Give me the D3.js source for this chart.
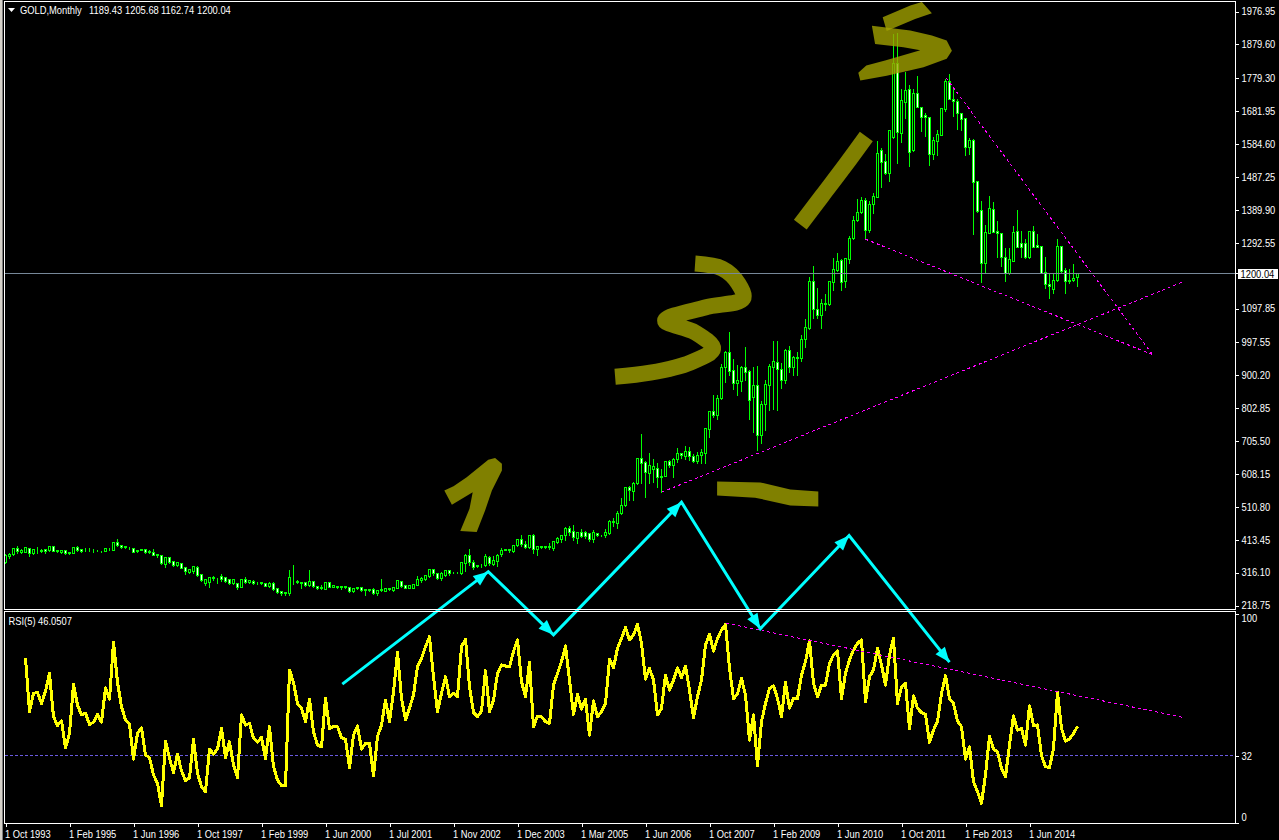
<!DOCTYPE html>
<html>
<head>
<meta charset="utf-8">
<script src="https://cdn.jsdelivr.net/npm/d3@7/dist/d3.min.js"></script>
<style>
html,body{margin:0;padding:0;background:#000;overflow:hidden}
svg{display:block}
text{font-family:"Liberation Sans",sans-serif;font-size:10.5px;fill:#fff}
</style>
</head>
<body>
<svg id="c" width="1279" height="840"></svg>
<script>
const symbolTitle = "GOLD,Monthly";
const rsiTitle = "RSI(5) 46.0507";

const opens = [
347,364,369,387,376,376,386,373,381,380,
384,381,393,381,377,381,372,374,391,384,
382,381,381,382,381,380,382,383,406,396,
390,391,386,378,384,384,378,376,370,367,
340,361,349,336,342,332,317,320,332,310,
283,286,298,298,304,303,296,283,283,273,
295,287,290,286,284,285,275,285,268,260,
256,253,296,291,286,286,278,290,276,270,
266,288,273,276,274,271,271,259,268,271,
264,265,265,253,263,261,265,263,269,289,
278,269,270,279,293,296,306,324,314,298,
308,322,316,316,312,344,367,347,335,336,
337,362,340,350,370,383,383,379,395,413,
398,389,425,385,389,390,389,386,406,415,
426,448,438,418,435,435,433,413,433,425,
426,433,466,462,490,514,567,557,579,653,
641,610,622,623,597,602,644,634,650,668,
660,675,660,646,662,670,740,792,780,830,
922,969,913,875,883,922,910,833,869,723,
815,869,924,937,916,886,975,922,949,949,
1005,1039,1177,1094,1078,1109,1109,1174,1210,1240,
1179,1244,1304,1358,1383,1417,1328,1405,1427,1565,
1532,1496,1603,1822,1617,1708,1745,1565,1733,1692,
1668,1662,1555,1593,1611,1688,1770,1716,1712,1676,
1659,1575,1595,1473,1387,1230,1321,1390,1325,1319,
1248,1200,1238,1327,1289,1289,1248,1325,1283,1282,
1205,1169,1155,1180,1281,1210,1182,1180,1189.43];

const highs = [
374,377,388,395,387,392,389,386,393,386,
386,394,394,383,384,383,378,393,396,388,
391,391,386,384,383,387,391,406,416,399,
396,394,388,385,385,386,384,386,374,368,
362,364,350,347,343,334,327,336,338,312,
296,305,308,303,312,305,298,296,288,298,
304,294,295,290,291,286,290,290,270,261,
260,324,340,297,288,288,324,293,277,281,
289,290,278,277,277,275,272,270,275,272,
268,266,273,265,298,271,273,275,295,293,
279,281,283,308,304,309,329,327,317,320,
324,324,318,318,347,372,386,354,340,342,
372,367,367,374,391,386,387,399,416,429,
411,427,433,395,396,396,406,411,423,429,
452,456,458,436,446,441,436,443,435,428,
448,472,478,500,537,569,574,587,655,727,
648,673,653,643,623,646,650,656,685,673,
692,689,668,675,682,745,793,843,843,934,
973,1029,949,931,929,985,916,926,929,827,
887,934,1003,1003,939,980,988,959,971,1021,
1068,1192,1225,1161,1126,1141,1181,1248,1264,1245,
1248,1314,1373,1422,1429,1427,1417,1442,1595,1575,
1556,1629,1911,1916,1748,1800,1761,1748,1787,1694,
1679,1664,1607,1627,1692,1780,1792,1751,1718,1679,
1662,1605,1600,1477,1419,1346,1431,1414,1358,1324,
1279,1279,1344,1390,1328,1304,1328,1343,1321,1284,
1251,1203,1205,1304,1284,1220,1215,1230,1205.68];

const lows = [
342,357,367,372,372,375,365,369,374,376,
374,380,378,376,374,369,371,373,379,377,
378,378,377,378,377,379,381,382,393,387,
386,384,376,376,381,374,374,366,362,340,
332,342,334,335,328,310,314,312,304,290,
278,273,293,283,291,288,280,282,267,272,
285,285,282,281,280,275,273,263,253,249,
249,249,281,283,269,276,276,271,267,265,
265,272,272,268,265,268,258,258,265,261,
249,261,251,249,260,259,263,260,268,273,
268,268,268,277,288,293,302,307,295,293,
304,309,314,313,310,320,337,324,330,330,
334,337,337,334,364,381,376,376,393,393,
386,386,373,368,388,388,384,381,403,406,
411,426,411,403,419,416,409,406,423,424,
421,429,452,448,488,512,529,529,577,579,
539,579,584,569,554,600,626,598,643,653,
650,648,643,638,638,638,717,776,769,828,
879,899,859,840,853,885,768,732,677,697,
736,796,798,796,862,877,909,901,899,942,
983,1036,1069,1069,1040,1092,1106,1151,1208,1151,
1161,1232,1301,1356,1378,1303,1322,1378,1425,1457,
1494,1474,1600,1528,1590,1659,1519,1563,1692,1623,
1607,1521,1538,1551,1609,1681,1715,1666,1629,1625,
1551,1555,1317,1382,1175,1202,1319,1322,1248,1223,
1178,1198,1236,1277,1249,1245,1245,1277,1277,1200,
1158,1128,1141,1178,1205,1141,1171,1178,1162.74];

const closes = [
367,371,387,378,381,391,372,385,382,383,
379,393,379,378,381,372,377,391,381,379,
381,382,382,381,382,386,383,405,396,391,
393,389,377,383,382,377,377,368,366,342,
361,347,336,346,329,319,326,334,308,293,
295,302,301,299,295,290,283,295,271,297,
287,293,284,287,287,276,285,266,258,253,
255,301,297,287,285,278,290,275,269,273,
288,273,277,272,271,274,259,269,271,263,
266,263,255,263,265,270,270,272,293,276,
269,278,280,295,300,308,324,312,300,312,
322,312,315,315,346,367,347,332,337,338,
364,342,352,367,383,384,384,395,414,399,
389,425,385,393,393,392,393,408,416,425,
448,436,419,435,424,424,413,435,425,427,
435,466,464,490,514,567,558,579,653,640,
611,632,631,597,602,644,634,650,668,662,
675,660,646,662,671,742,792,780,830,922,
969,912,875,884,922,909,827,869,721,815,
872,926,940,916,886,973,922,952,952,1005,
1042,1177,1094,1078,1114,1114,1178,1212,1238,1176,
1246,1304,1358,1383,1417,1328,1407,1429,1558,1531,
1496,1625,1822,1620,1713,1743,1560,1733,1694,1664,
1662,1555,1595,1613,1689,1770,1717,1712,1674,1658,
1575,1595,1472,1384,1230,1323,1393,1324,1319,1248,
1200,1242,1323,1279,1279,1248,1325,1279,1279,1202,
1170,1164,1180,1281,1208,1178,1178,1188,1200.04];

const rsiFirstBar = 5;
const rsiValues = [
78.6,53.1,61.8,62.3,57.0,62.9,71.4,50.7,46.4,48.8,35.8,42.7,66.1,56.3,51.5,
52.3,47.0,48.0,51.8,48.0,64.5,59.0,86.2,67.1,55.5,49.1,47.0,30.3,42.7,45.4,
32.3,31.1,22.8,18.8,8.1,39.0,30.7,24.0,32.6,24.8,20.0,21.5,39.8,23.6,17.2,
14.8,35.2,32.8,35.2,45.1,31.2,38.7,27.5,21.5,51.5,46.7,47.5,40.3,38.4,40.8,
30.7,45.9,26.8,20.4,17.7,17.7,73.0,67.1,57.0,54.7,48.3,59.1,43.5,37.1,36.3,
59.4,45.1,45.9,45.9,40.6,39.8,26.3,41.9,46.2,35.2,37.9,37.9,22.3,41.1,46.7,
58.6,48.3,62.6,81.5,59.4,49.1,54.7,61.0,74.6,78.6,84.2,89.0,69.8,53.1,61.8,
69.8,60.2,61.8,60.2,84.2,87.8,65.0,52.7,50.7,53.4,72.7,53.1,58.6,71.4,75.4,
74.9,74.6,81.8,87.4,67.4,60.2,76.7,45.9,51.0,50.7,48.3,47.5,65.8,71.4,77.0,
84.5,68.2,51.8,61.4,54.3,59.1,41.9,58.2,50.7,53.1,57.0,78.1,74.1,83.4,88.2,
93.3,87.4,89.7,94.8,85.8,68.7,73.8,68.2,51.5,54.7,70.6,63.4,68.2,74.1,69.3,
74.9,63.4,50.2,60.2,68.2,85.0,90.1,82.1,88.2,92.1,94.8,73.8,59.4,61.4,69.0,
61.0,39.5,51.5,27.2,48.3,57.0,64.2,65.5,59.4,50.7,67.1,54.7,59.4,59.4,70.6,
77.0,86.9,66.6,60.2,65.8,65.8,76.2,80.2,82.1,59.4,71.4,77.8,82.6,85.8,87.4,
57.8,69.8,73.0,83.4,75.4,65.8,80.2,88.2,57.0,65.0,66.6,44.8,60.7,54.7,52.7,
51.8,38.4,44.3,48.3,61.8,70.3,59.4,57.0,48.6,45.9,30.4,36.3,19.6,14.8,9.2,
22.8,41.4,35.2,33.9,25.9,22.0,37.1,51.0,44.3,45.1,37.1,55.9,46.4,46.7,32.0,
26.8,26.3,35.5,62.3,45.1,39.0,40.0,42.7,46.05];

const xTickBars = [0,16,32,48,64,80,96,112,128,144,160,176,192,208,224,240,256];
const xTickLabels = ["1 Oct 1993","1 Feb 1995","1 Jun 1996","1 Oct 1997","1 Feb 1999","1 Jun 2000","1 Jul 2001","1 Nov 2002","1 Dec 2003","1 Mar 2005","1 Jun 2006","1 Oct 2007","1 Feb 2009","1 Jun 2010","1 Oct 2011","1 Feb 2013","1 Jun 2014"];
const priceTicks = [1976.95,1879.60,1779.30,1681.95,1584.60,1487.25,1389.90,1292.55,1097.85,997.55,900.20,802.85,705.50,608.15,510.80,413.45,316.10,218.75];
const rsiTicks = [100,32,0];

/* annotations, in [bar, price] */
const trendLines = [
  [[164,554],[294.9,1179]],
  [[215,1303],[286.8,961]],
  [[235.1,1781],[286.8,961]]
];
const rsiTrendLine = [[180.2,95.4],[294.7,50.2]];
const cyanPath = [[84.2,-14],[120.7,319],[137,132],[169,524.5],[188.7,150],[210.9,426],[236,51]];
const inkAreas = [
  [[109.7,559],[112,572],[115.3,598],[120.7,650],[122.4,655],[124.1,638],[124.1,618],[121.6,559],[119.9,500],[117.8,436],[113.7,439],[116,505],[116.8,554],[111.6,517]],
  [[177.9,586],[188.7,583],[196.2,562],[203.2,556],[203.2,512],[196.2,515],[187.4,538],[177.9,544]],
  [[219.3,1960],[226.2,1995],[229.1,2005],[231.6,1972],[227.4,1955],[220.3,1919]],
  [[216.6,1935],[226.2,1921],[231.6,1906],[235.3,1891],[236.6,1861],[235.3,1837],[229.5,1812],[220.3,1787],[213.7,1773],[213.2,1796],[215.2,1817],[219.9,1832],[228.7,1862],[224.5,1871],[217.4,1881]]
];
const inkStrokes = [
  [[172.4,1231],[179.2,1216],[183.2,1172],[184.4,1127],[174.9,1101],[164.9,1062],[172.4,1027],[176.9,979],[171.2,938],[161.2,908],[152.4,896]],
  [[198.7,1346],[204.2,1432],[209.9,1521],[215.2,1607]]
];

const svg = d3.select("#c");
const frameL = 4.5, frameR = 1235.5, mainTop = 1.5, mainBot = 609.5, rsiTop = 611.5, rsiBot = 823.5;

const x = d3.scaleLinear().domain([0,268]).range([5.5,1077.5]);
const y = d3.scaleLinear().domain([218.75,1976.95]).range([605.5,11.5]);
const yR = d3.scaleLinear().domain([0,100]).range([822.6,613.6]);
const snap = v => Math.round(v - 0.5) + 0.5;

/* window edge */
svg.append("rect").attr("x",0).attr("y",0).attr("width",3).attr("height",840).attr("fill","#d4d0c8");
svg.append("rect").attr("x",2).attr("y",0).attr("width",1).attr("height",840).attr("fill","#808080");

/* candles */
const idx = d3.range(opens.length);
const candles = svg.append("g").attr("shape-rendering","crispEdges");
candles.selectAll("line.w").data(idx).join("line").attr("class","w")
  .attr("x1",i=>x(i)).attr("x2",i=>x(i))
  .attr("y1",i=>snap(y(highs[i]))).attr("y2",i=>snap(y(lows[i])))
  .attr("stroke","#00ff00").attr("stroke-width",1);
candles.selectAll("rect").data(idx).join("rect")
  .attr("x",i=>x(i)-1).attr("width",2)
  .attr("y",i=>snap(y(Math.max(opens[i],closes[i]))))
  .attr("height",i=>Math.max(0,snap(y(Math.min(opens[i],closes[i])))-snap(y(Math.max(opens[i],closes[i])))))
  .attr("fill",i=>closes[i]>=opens[i]?"#000":"#fff")
  .attr("stroke","#00ff00").attr("stroke-width",1);

/* brush ink */
const ink = svg.append("g");
const toPt = d => [x(d[0]),y(d[1])];
ink.selectAll("path.a").data(inkAreas).join("path").attr("class","a")
  .attr("d",d=>d3.line().curve(d3.curveLinearClosed)(d.map(toPt)))
  .attr("fill","rgb(160,160,0)").attr("fill-opacity",0.8);
ink.selectAll("path.s").data(inkStrokes).join("path").attr("class","s")
  .attr("d",d=>d3.line().curve(d3.curveCatmullRom.alpha(0.5))(d.map(toPt)))
  .attr("fill","none").attr("stroke","rgb(160,160,0)").attr("stroke-opacity",0.8)
  .attr("stroke-width",16).attr("stroke-linecap","butt").attr("stroke-linejoin","round");

/* current price line */
const lastClose = closes[closes.length-1];
svg.append("line").attr("x1",frameL).attr("x2",frameR)
  .attr("y1",snap(y(lastClose))).attr("y2",snap(y(lastClose)))
  .attr("stroke","#778899").attr("shape-rendering","crispEdges");

/* RSI level and line */
svg.append("line").attr("x1",frameL).attr("x2",frameR)
  .attr("y1",snap(yR(32))).attr("y2",snap(yR(32)))
  .attr("stroke","#6a5ae0").attr("stroke-dasharray","3 2").attr("shape-rendering","crispEdges");
svg.append("path")
  .attr("d",d3.line().x((d,i)=>x(i+rsiFirstBar)).y(d=>yR(d))(rsiValues))
  .attr("fill","none").attr("stroke","#ffff00").attr("stroke-width",3)
  .attr("stroke-linejoin","round").attr("shape-rendering","crispEdges");

/* trend lines */
const magenta = {stroke:"#ff00ff",dash:"3 3"};
svg.selectAll("line.t").data(trendLines).join("line").attr("class","t")
  .attr("x1",d=>x(d[0][0])).attr("y1",d=>y(d[0][1]))
  .attr("x2",d=>x(d[1][0])).attr("y2",d=>y(d[1][1]))
  .attr("stroke",magenta.stroke).attr("stroke-dasharray",magenta.dash).attr("shape-rendering","crispEdges");
svg.append("line")
  .attr("x1",x(rsiTrendLine[0][0])).attr("y1",yR(rsiTrendLine[0][1]))
  .attr("x2",x(rsiTrendLine[1][0])).attr("y2",yR(rsiTrendLine[1][1]))
  .attr("stroke",magenta.stroke).attr("stroke-dasharray",magenta.dash).attr("shape-rendering","crispEdges");

/* cyan arrows */
const cyan = "#00ffff";
const cy = svg.append("g");
const cyanPts = cyanPath.map(toPt);
cy.append("path").attr("d",d3.line()(cyanPts)).attr("fill","none").attr("stroke",cyan)
  .attr("stroke-width",3).attr("stroke-linejoin","miter");
cyanPts.slice(1).forEach((p,i)=>{
  const q = cyanPts[i], a = Math.atan2(p[1]-q[1],p[0]-q[0]), len = 15, wid = 6;
  const bx = p[0]-len*Math.cos(a), by = p[1]-len*Math.sin(a);
  cy.append("path").attr("fill",cyan).attr("d",d3.line()([
    p,[bx-wid*Math.sin(a),by+wid*Math.cos(a)],[bx+wid*Math.sin(a),by-wid*Math.cos(a)]])+"Z");
});

/* frames */
[[mainTop,mainBot],[rsiTop,rsiBot]].forEach(r=>{
  svg.append("rect").attr("x",frameL).attr("y",r[0]).attr("width",frameR-frameL).attr("height",r[1]-r[0])
    .attr("fill","none").attr("stroke","#fff").attr("shape-rendering","crispEdges");
});

/* axes */
const style = g=>{
  g.select(".domain").remove();
  g.selectAll("line").attr("stroke","#fff").attr("shape-rendering","crispEdges");
  g.attr("font-family",null).attr("font-size",null);
};
const gY = svg.append("g").attr("transform",`translate(${frameR},0)`)
  .call(d3.axisRight(y).tickValues(priceTicks).tickFormat(d3.format(".2f")).tickSize(3).tickPadding(3)).call(style);

const gR = svg.append("g").attr("transform",`translate(${frameR},0)`)
  .call(d3.axisRight(yR).tickValues(rsiTicks).tickFormat(d3.format("d")).tickSize(3).tickPadding(3)).call(style);
gR.selectAll(".tick text").attr("dy",d=>d===100?"0.77em":d===0?"-0.24em":"0.32em");

const gX = svg.append("g").attr("transform",`translate(0,${rsiBot})`)
  .call(d3.axisBottom(x).tickValues(xTickBars).tickFormat((d,i)=>xTickLabels[i]).tickSize(3).tickPadding(4)).call(style);
gX.selectAll(".tick text").attr("text-anchor","start").attr("x",-1);

/* last price box */
svg.append("rect").attr("x",1238).attr("y",269).attr("width",40).attr("height",10).attr("fill","#fff");
svg.append("text").attr("x",1240.5).attr("y",278).style("fill","#000").text(lastClose.toFixed(2));
svg.append("line").attr("x1",frameR).attr("x2",1239).attr("y1",snap(y(lastClose))).attr("y2",snap(y(lastClose)))
  .attr("stroke","#fff").attr("shape-rendering","crispEdges");

/* header */
svg.append("path").attr("d",d3.line()([[8,8],[15,8],[11.5,12]])+"Z").attr("fill","#fff");
svg.append("text").attr("x",20).attr("y",14).text(symbolTitle);
const lastBar = opens.length-1;
[opens[lastBar],highs[lastBar],lows[lastBar],closes[lastBar]].forEach((v,i)=>{
  svg.append("text").attr("x",89+36*i).attr("y",14).text(v.toFixed(2));
});
svg.append("text").attr("x",8.5).attr("y",625).text(rsiTitle);

/* the reference's bitmap font is narrower than any installed face */
svg.selectAll("text").each(function(){
  this.setAttribute("textLength",(this.getComputedTextLength()*0.89).toFixed(1));
  this.setAttribute("lengthAdjust","spacingAndGlyphs");
});
</script>
</body>
</html>
